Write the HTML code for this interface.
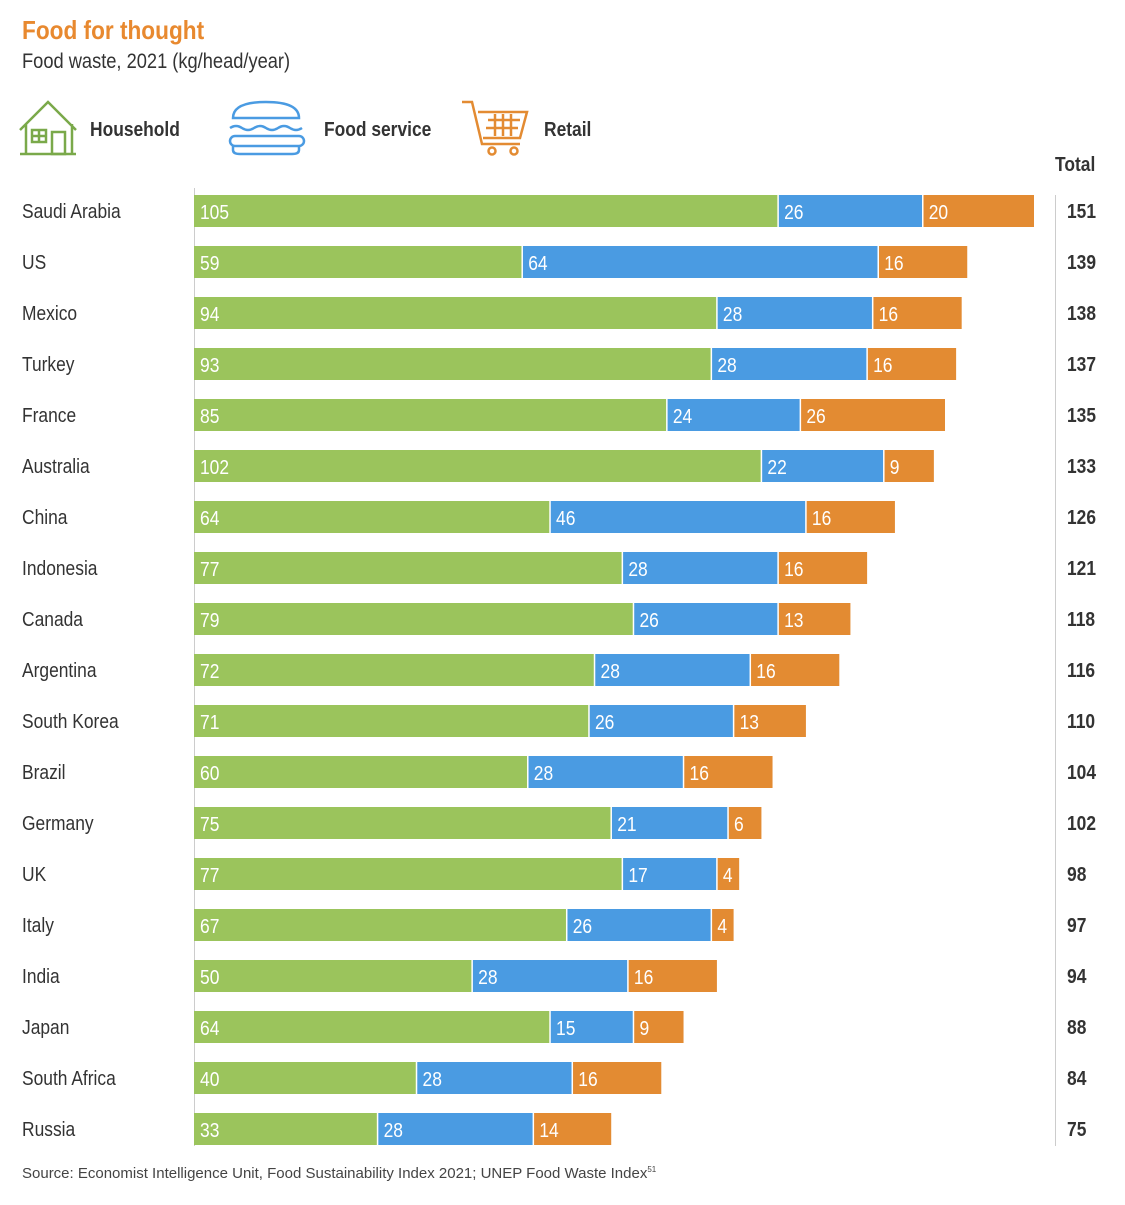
<!DOCTYPE html>
<html><head><meta charset="utf-8">
<style>
body{margin:0;background:#fff;width:1125px;height:1200px;overflow:hidden;font-family:"Liberation Sans",sans-serif;}
svg text{font-family:"Liberation Sans",sans-serif;}
</style></head>
<body>
<svg width="1125" height="1200" viewBox="0 0 1125 1200">
<text x="22" y="39" font-size="26" font-weight="bold" fill="#e8892f">Food for thought</text>
<text x="22" y="68" font-size="21" fill="#333">Food waste, 2021 (kg/head/year)</text>
<g fill="none" stroke="#7aa94a" stroke-width="2.5">
<path d="M20 130 L48 102 L76 130 M26 124 V154 H72 V124 M20 154 H76"/>
<rect x="32" y="130" width="14" height="12"/><path d="M39 130 V142 M32 136 H46"/>
<rect x="52" y="132" width="13" height="22"/>
</g>
<text x="90" y="136" font-size="20" font-weight="bold" fill="#333">Household</text>
<g fill="none" stroke="#4a9be2" stroke-width="2.5">
<path d="M233 118 Q233 102 266 102 Q299 102 299 118 Z"/>
<path d="M230 128 q6 -4 12 0 t12 0 t12 0 t12 0 t12 0 t12 0"/>
<rect x="230" y="136" width="74" height="10" rx="5"/>
<path d="M233 146 V150 Q233 154 240 154 H292 Q299 154 299 150 V146"/>
</g>
<text x="324" y="136" font-size="20" font-weight="bold" fill="#333">Food service</text>
<g fill="none" stroke="#e38b32" stroke-width="2.5">
<path d="M462 102 H472 L482 144 H520 M478 112 H527 L520 138 H483"/>
<path d="M488 120 H520 M486 128 H518 M495 114 V136 M503 114 V136 M511 114 V136"/>
<circle cx="492" cy="151" r="3.5"/><circle cx="514" cy="151" r="3.5"/>
</g>
<text x="544" y="136" font-size="20" font-weight="bold" fill="#333">Retail</text>
<text x="1055" y="171" font-size="20" font-weight="bold" fill="#333">Total</text>
<line x1="194.5" y1="188" x2="194.5" y2="1146" stroke="#ccc" stroke-width="1"/>
<line x1="1055.5" y1="195" x2="1055.5" y2="1146" stroke="#ccc" stroke-width="1"/>
<g id="bars"></g>
<text id="src" x="22" y="1178" font-size="15" fill="#444">Source: Economist Intelligence Unit, Food Sustainability Index 2021; UNEP Food Waste Index<tspan font-size="8" dy="-6">51</tspan></text>
</svg>
<script>
const countries=["Saudi Arabia","US","Mexico","Turkey","France","Australia","China","Indonesia","Canada","Argentina","South Korea","Brazil","Germany","UK","Italy","India","Japan","South Africa","Russia"];
const household=[105,59,94,93,85,102,64,77,79,72,71,60,75,77,67,50,64,40,33];
const foodService=[26,64,28,28,24,22,46,28,26,28,26,28,21,17,26,28,15,28,28];
const retail=[20,16,16,16,26,9,16,16,13,16,13,16,6,4,4,16,9,16,14];
const totals=[151,139,138,137,135,133,126,121,118,116,110,104,102,98,97,94,88,84,75];
const x0=194,scale=840/151,y0=195,pitch=51,bh=32;
const xs=v=>x0+v*scale;
const ys=i=>y0+i*pitch;
const colors=["#9bc45c","#4a9be2","#e38b32"];
const names=["household","food-service","retail"];
const g=document.getElementById('bars');
const NS="http://www.w3.org/2000/svg";
countries.forEach((c,i)=>{
  const y=ys(i);
  const lab=document.createElementNS(NS,'text');
  
  
  lab.setAttribute('x',22);lab.setAttribute('y',y+23);lab.setAttribute('font-size','20');lab.setAttribute('fill','#333');
  lab.textContent=c;g.appendChild(lab);
  const vals=[household[i],foodService[i],retail[i]];
  let acc=0;
  vals.forEach((v,k)=>{
    const r=document.createElementNS(NS,'rect');
    
    
    r.setAttribute('x',xs(acc));r.setAttribute('y',y);r.setAttribute('width',xs(acc+v)-xs(acc));r.setAttribute('height',bh);r.setAttribute('fill',colors[k]);
    g.appendChild(r);
    if(k>0){const s=document.createElementNS(NS,'line');
      
      
      s.setAttribute('x1',xs(acc));s.setAttribute('x2',xs(acc));s.setAttribute('y1',y);s.setAttribute('y2',y+bh);s.setAttribute('stroke','#fff');s.setAttribute('stroke-width','1.5');g.appendChild(s);}
    const t=document.createElementNS(NS,'text');
    
    
    t.setAttribute('x',xs(acc)+6);t.setAttribute('y',y+24);t.setAttribute('font-size','20');t.setAttribute('fill','#fff');
    t.textContent=v;g.appendChild(t);
    acc+=v;
  });
  const tt=document.createElementNS(NS,'text');
  
  
  tt.setAttribute('x',1067);tt.setAttribute('y',y+23);tt.setAttribute('font-size','20');tt.setAttribute('font-weight','bold');tt.setAttribute('fill','#333');
  tt.textContent=totals[i];g.appendChild(tt);
});
// condense text to mimic the narrow reference typeface
document.querySelectorAll('svg text').forEach(t=>{
  if(t.id==='src')return;
  const L=t.getComputedTextLength();
  if(L>0){t.setAttribute('textLength',(L*0.87).toFixed(1));t.setAttribute('lengthAdjust','spacingAndGlyphs');}
});
</script>
</body></html>
